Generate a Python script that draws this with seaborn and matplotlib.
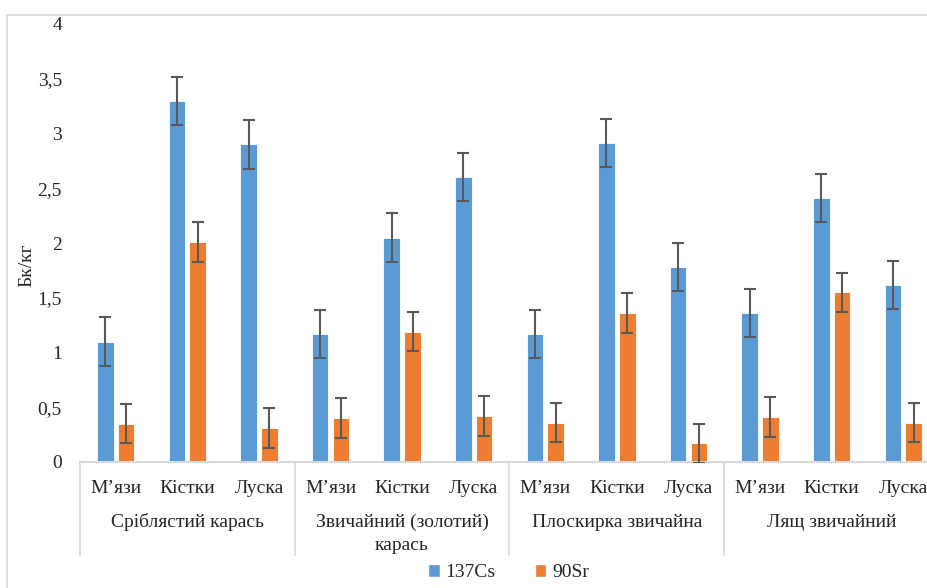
import numpy as np
import pandas as pd
import matplotlib
matplotlib.use("Agg")
import matplotlib.pyplot as plt
from matplotlib.patches import Rectangle, Patch
import seaborn as sns

# data
groups = ["Сріблястий карась", "Звичайний (золотий)\nкарась", "Плоскирка звичайна", "Лящ звичайний"]
tissues = ["М’язи", "Кістки", "Луска"]
cs_vals = [1.10, 3.30, 2.90, 1.17, 2.05, 2.60, 1.17, 2.91, 1.78, 1.36, 2.41, 1.62]
sr_vals = [0.35, 2.01, 0.31, 0.40, 1.19, 0.42, 0.36, 1.36, 0.17, 0.41, 1.55, 0.36]
cs_err = [0.22] * 12
sr_err = [0.18] * 12
series = ["137Cs", "90Sr"]
yticks = [0, 0.5, 1, 1.5, 2, 2.5, 3, 3.5, 4]
ytick_labels = ["0", "0,5", "1", "1,5", "2", "2,5", "3", "3,5", "4"]

blue = "#5B9BD5"
orange = "#ED7D31"
fs = 14

sns.set_theme(style="white")
plt.rcParams["font.family"] = ["Liberation Serif", "DejaVu Serif"]

cats = [f"{g}|{t}" for g in groups for t in tissues]
df = pd.DataFrame({
    "cat": cats * 2,
    "value": cs_vals + sr_vals,
    "series": [series[0]] * 12 + [series[1]] * 12,
})

fig = plt.figure(figsize=(9.28, 5.88), dpi=100)
ax = fig.add_axes([80 / 928, 126 / 588, 859 / 928, 438 / 588])

sns.barplot(data=df, x="cat", y="value", hue="series", order=cats,
            palette=[blue, orange], saturation=1, width=0.58, gap=0.2,
            errorbar=None, edgecolor="white", linewidth=0.6, ax=ax, legend=False)

# error bars on top of each bar
errs = cs_err + sr_err
for patch, val, err in zip(ax.patches[:24], cs_vals + sr_vals, errs):
    xc = patch.get_x() + patch.get_width() / 2
    ax.errorbar(xc, val, yerr=err, fmt="none", ecolor="#595959",
                elinewidth=1.5, capsize=4, capthick=1.5, zorder=5)

ax.set_xlim(-0.5, 11.5)
ax.set_ylim(0, 4)
ax.set_yticks(yticks)
ax.set_yticklabels(ytick_labels, fontsize=fs)
ax.tick_params(axis="y", length=0, pad=13)
ax.set_xticks([])
ax.set_xlabel("")
ax.set_ylabel("Бк/кг", fontsize=fs)
ax.yaxis.set_label_coords(-0.052, 0.45)
for s in ["left", "right", "top"]:
    ax.spines[s].set_visible(False)
ax.spines["bottom"].set_color("#D9D9D9")
ax.spines["bottom"].set_linewidth(1.5)

# multi-level category axis
trans = ax.get_xaxis_transform()
for i, t in enumerate(tissues * len(groups)):
    ax.text(i, -0.06, t, transform=trans, ha="center", va="center", fontsize=fs)
for gi, g in enumerate(groups):
    lines = g.split("\n")
    ax.text(gi * 3 + 1, -0.137, lines[0], transform=trans, ha="center", va="center", fontsize=fs)
    if len(lines) > 1:
        ax.text(gi * 3 + 1, -0.19, lines[1], transform=trans, ha="center", va="center", fontsize=fs)
for xb in [-0.5, 2.5, 5.5, 8.5, 11.5]:
    ax.plot([xb, xb], [0, -0.212], transform=trans, color="#D9D9D9", lw=1.2, clip_on=False)

handles = [Patch(facecolor=blue, label=series[0]), Patch(facecolor=orange, label=series[1])]
fig.legend(handles=handles, loc="center", bbox_to_anchor=(0.548, 0.026), ncol=2,
           frameon=False, fontsize=fs, handlelength=0.6, handleheight=0.6,
           handletextpad=0.3, columnspacing=2.0)

# outer chart-area border
fig.patches.append(Rectangle((7 / 928, -0.01), 1.0, (588 - 15) / 588 + 0.01,
                             transform=fig.transFigure, fill=False,
                             edgecolor="#D9D9D9", lw=1.2))

fig.savefig("out.png", dpi=100)
